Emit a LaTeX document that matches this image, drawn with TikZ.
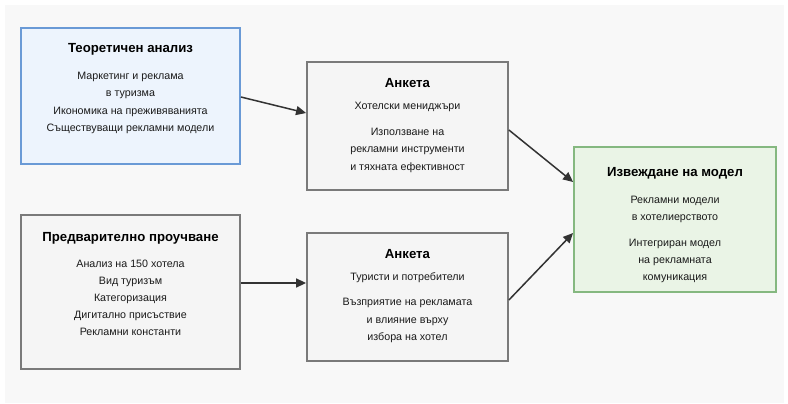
\documentclass[tikz,border=0pt]{standalone}
\usepackage{fontspec}
\setmainfont{Liberation Sans}
\usetikzlibrary{arrows.meta,calc}

\definecolor{canvas}{HTML}{F8F8F8}
\definecolor{bluefill}{HTML}{EDF4FD}
\definecolor{blueline}{HTML}{6A9AD6}
\definecolor{greyfill}{HTML}{F5F5F5}
\definecolor{greyline}{HTML}{7A7A7A}
\definecolor{greenfill}{HTML}{EAF4E6}
\definecolor{greenline}{HTML}{85B880}
\definecolor{ink}{HTML}{1A1A1A}
\definecolor{wire}{HTML}{333333}

\tikzset{
  box/.style={draw=greyline, fill=greyfill, line width=1.8pt, inner sep=0pt},
  bluebox/.style={box, draw=blueline, fill=bluefill},
  greenbox/.style={box, draw=greenline, fill=greenfill},
  title/.style={font=\fontsize{13.2}{15}\selectfont\bfseries, text=black, anchor=mid, inner sep=0pt, yshift=-1.5pt},
  body/.style={font=\fontsize{10.7}{12}\selectfont, text=ink, anchor=mid, inner sep=0pt, yshift=-1.5pt},
  flow/.style={draw=wire, line width=1.5pt, -{Triangle[length=10pt,width=9pt]}},
}

\begin{document}
\begin{tikzpicture}[x=1pt,y=-1pt]
  % canvas
  \fill[white] (0,0) rectangle (788,404);
  \fill[canvas] (5,5) rectangle (784,403);
  \useasboundingbox (0,0) rectangle (788,404);

  % boxes
  \node[bluebox, minimum width=219pt, minimum height=136pt] (b1) at (130.5,96) {};
  \node[box, minimum width=219pt, minimum height=154pt] (b2) at (130.5,292) {};
  \node[box, minimum width=201pt, minimum height=128pt] (b3) at (407.5,126) {};
  \node[box, minimum width=201pt, minimum height=128pt] (b4) at (407.5,297) {};
  \node[greenbox, minimum width=202pt, minimum height=145pt] (b5) at (675,219.5) {};

  % texts: theoretical analysis
  \node[title] (t1) at (130.5,48) {Теоретичен анализ};
  \node[body] (t1a) at (130.5,75) {Маркетинг и реклама};
  \node[body] (t1b) at (130.5,92) {в туризма};
  \node[body] (t1c) at (130.5,110) {Икономика на преживяванията};
  \node[body] (t1d) at (130.5,127) {Съществуващи рекламни модели};

  % texts: preliminary study
  \node[title] (t2) at (130.5,237) {Предварително проучване};
  \node[body] (t2a) at (130.5,263) {Анализ на 150 хотела};
  \node[body] (t2b) at (130.5,280) {Вид туризъм};
  \node[body] (t2c) at (130.5,297) {Категоризация};
  \node[body] (t2d) at (130.5,314) {Дигитално присъствие};
  \node[body] (t2e) at (130.5,331) {Рекламни константи};

  % texts: survey of managers
  \node[title] (t3) at (407.5,83) {Анкета};
  \node[body] (t3a) at (407.5,105) {Хотелски мениджъри};
  \node[body] (t3b) at (407.5,131) {Използване на};
  \node[body] (t3c) at (407.5,148) {рекламни инструменти};
  \node[body] (t3d) at (407.5,166) {и тяхната ефективност};

  % texts: survey of tourists
  \node[title] (t4) at (407.5,254) {Анкета};
  \node[body] (t4a) at (407.5,276) {Туристи и потребители};
  \node[body] (t4b) at (407.5,301) {Възприятие на рекламата};
  \node[body] (t4c) at (407.5,319) {и влияние върху};
  \node[body] (t4d) at (407.5,336) {избора на хотел};

  % texts: model
  \node[title] (t5) at (675,172) {Извеждане на модел};
  \node[body] (t5a) at (675,199) {Рекламни модели};
  \node[body] (t5b) at (675,216) {в хотелиерството};
  \node[body] (t5c) at (675,242) {Интегриран модел};
  \node[body] (t5d) at (675,259) {на рекламната};
  \node[body] (t5e) at (675,276) {комуникация};

  % connectors
  \draw[flow] ($(b1.east)+(0,1)$) -- ($(b3.west)+(0,-13)$);
  \draw[flow] ($(b2.east)+(0,-9)$) -- ($(b4.west)+(0,-14)$);
  \draw[flow] ($(b3.east)+(0,4)$) -- ($(b5.west)+(0,-37.5)$);
  \draw[flow] ($(b4.east)+(0,3)$) -- ($(b5.west)+(0,13.5)$);
\end{tikzpicture}
\end{document}
